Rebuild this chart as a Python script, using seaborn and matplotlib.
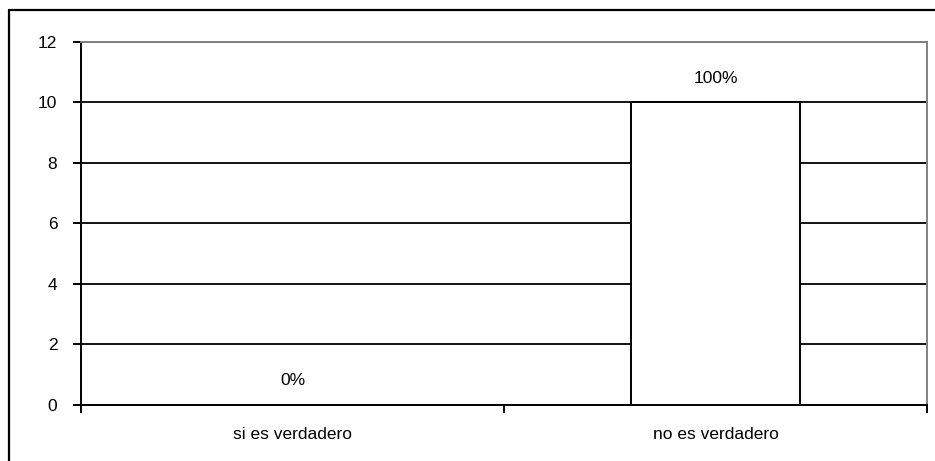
import matplotlib
matplotlib.use('Agg')
import matplotlib.pyplot as plt
import seaborn as sns
import pandas as pd
from matplotlib.lines import Line2D

# datos del grafico
categorias = ['si es verdadero', 'no es verdadero']
valores = [0, 10]
y_ticks = [0, 2, 4, 6, 8, 10, 12]

total = sum(valores)
porcentajes = [f'{round(v / total * 100)}%' for v in valores]

sns.set_style('white')
plt.rcParams['font.family'] = ['Liberation Sans', 'DejaVu Sans']
plt.rcParams['text.color'] = 'black'
plt.rcParams['xtick.color'] = 'black'
plt.rcParams['ytick.color'] = 'black'

fig = plt.figure(figsize=(9.35, 4.61), dpi=100)
ax = fig.add_axes([0.0866, 0.1215, 0.9048, 0.7874])

df = pd.DataFrame({'categoria': categorias, 'valor': valores})
sns.barplot(data=df, x='categoria', y='valor', color='white', edgecolor='black',
            linewidth=1.4, width=0.4, saturation=1, ax=ax, zorder=3)

# etiquetas de porcentaje sobre las barras
ax.bar_label(ax.containers[0], labels=porcentajes, padding=12, fontsize=12.5)

ax.set_ylim(0, 12)
ax.set_xlim(-0.5, 1.5)
ax.set_yticks(y_ticks)
ax.set_xlabel('')
ax.set_ylabel('')

# rejilla horizontal negra
ax.yaxis.grid(True, color='black', linewidth=1.3, zorder=1)
ax.set_axisbelow(True)

# marcas del eje x entre categorias
ax.set_xticks([-0.5, 0.5, 1.5], minor=True)
ax.tick_params(axis='x', which='minor', length=6, width=1.4, color='black', bottom=True)
ax.tick_params(axis='x', which='major', length=0, pad=16, labelsize=12.5)
ax.tick_params(axis='y', length=6, width=1.4, color='black', left=True, pad=11, labelsize=12.5)

for lado in ['left', 'bottom']:
    ax.spines[lado].set_color('black')
    ax.spines[lado].set_linewidth(1.4)
for lado in ['top', 'right']:
    ax.spines[lado].set_color('#808080')
    ax.spines[lado].set_linewidth(1.4)

# marco exterior (recortado a la derecha y abajo)
fig.add_artist(Line2D([9 / 935, 1.0], [1 - 10 / 461, 1 - 10 / 461], color='black', linewidth=1.6))
fig.add_artist(Line2D([9 / 935, 9 / 935], [0.0, 1 - 10 / 461], color='black', linewidth=1.6))

fig.savefig('out.png', dpi=100)
